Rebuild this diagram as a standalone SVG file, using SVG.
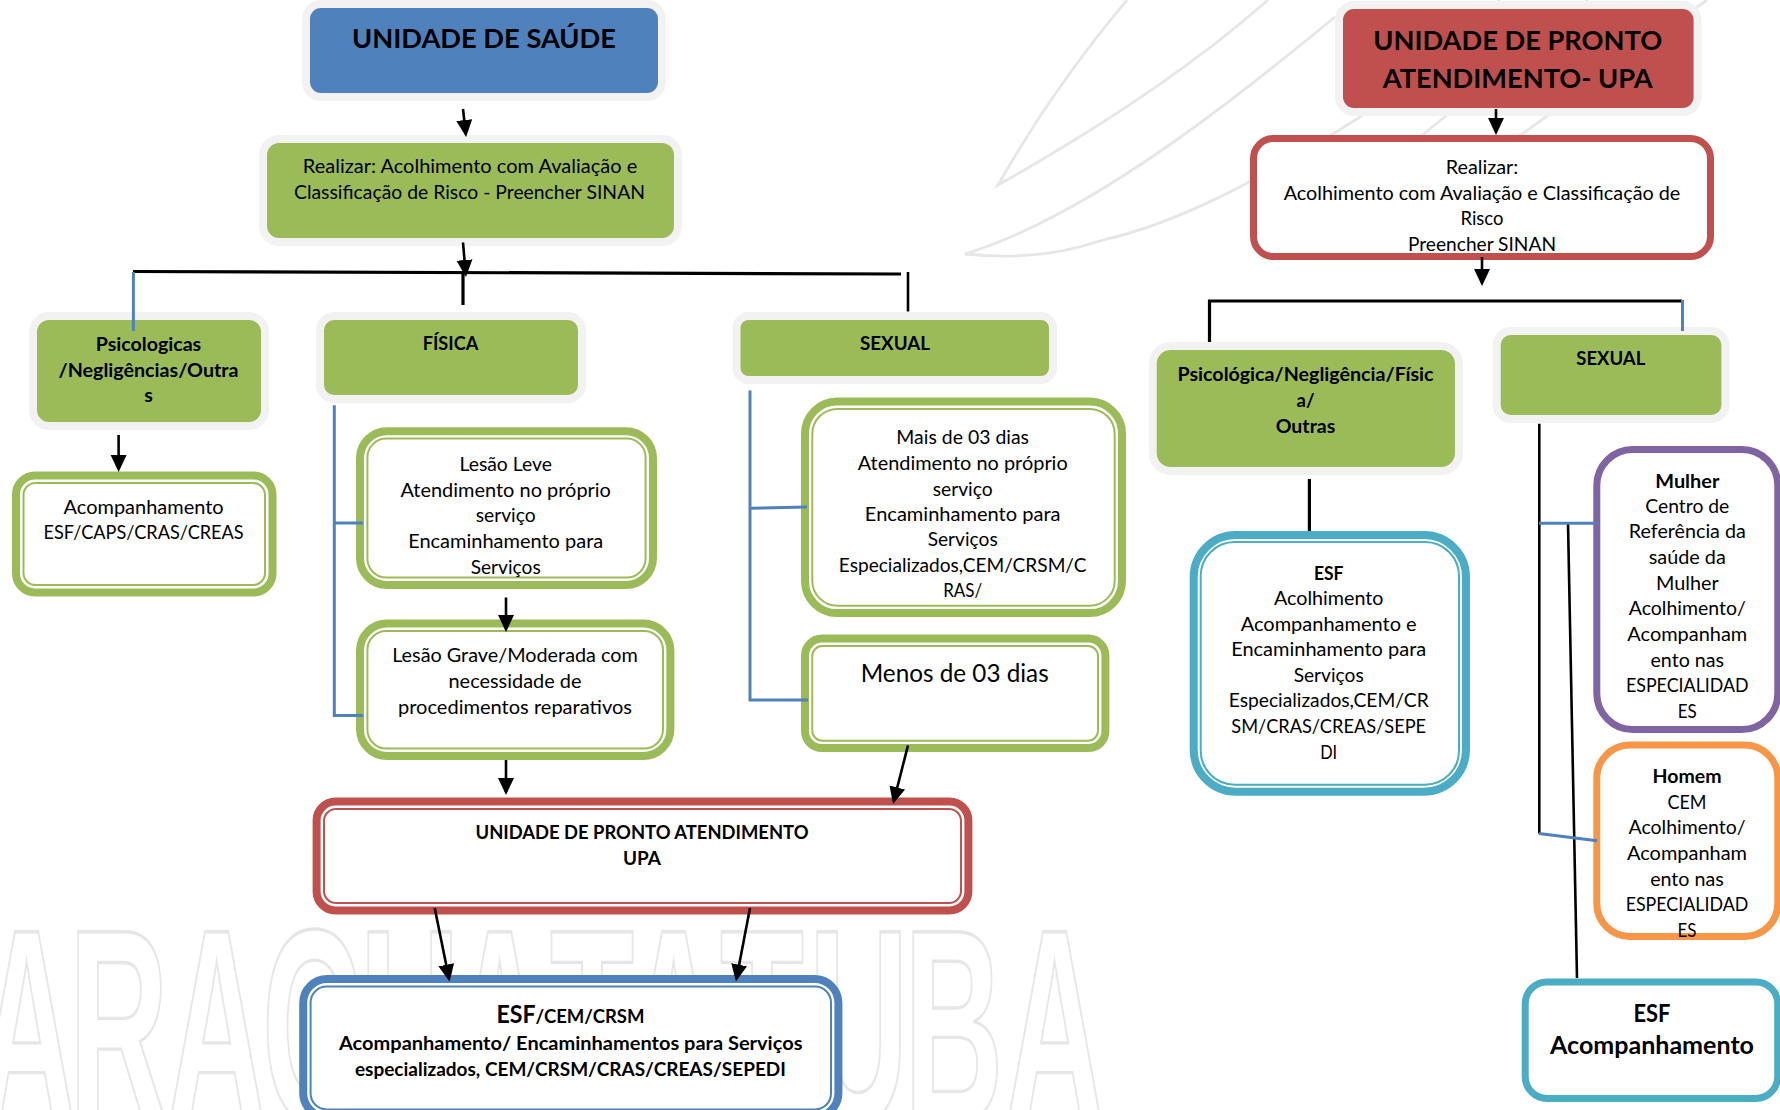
<svg xmlns="http://www.w3.org/2000/svg" width="1780" height="1110" viewBox="0 0 1780 1110">
<style>
text{font-family:Lato,"Liberation Sans",sans-serif;font-size:19.6px;fill:#000;text-anchor:middle}
.b{font-weight:700}
.t{font-size:27px;font-weight:700}
.big{font-size:24.5px}
.wm{font-family:"Liberation Sans",sans-serif;font-weight:700;font-size:275px;fill:none;stroke:#e6e6e6;stroke-width:2.7;text-anchor:start;vector-effect:non-scaling-stroke}
.leaf{fill:none;stroke:#e6e6e6;stroke-width:2.8}
.halo{stroke:#f2f2f2;stroke-width:8}
.g{fill:#9bbb59}.bl{fill:#4f81bd}.rd{fill:#c0504d}
.o,.i,.s{fill:#fff}
.o{stroke-width:8}.i{stroke-width:2}.s{stroke-width:7}
.cg{stroke:#9bbb59}.cr{stroke:#c0504d}.cb{stroke:#4f81bd}.ct{stroke:#4bacc6}.cp{stroke:#8064a2}.co{stroke:#f79646}
.k{stroke:#000;stroke-width:2.6;fill:none}
.kt{stroke:#000;stroke-width:3.2;fill:none}
.u{stroke:#4f81bd;stroke-width:3;fill:none}
.a{stroke:#000;stroke-width:2.6;fill:none;marker-end:url(#ah)}
</style>
<defs>
<marker id="ah" markerUnits="userSpaceOnUse" markerWidth="18" markerHeight="18" viewBox="0 0 18 18" refX="14" refY="9" orient="auto"><path d="M0,1 L17,9 L0,17 z" fill="#000"/></marker>
</defs>
<g id="watermark">
<text class="wm" transform="scale(.5,1)" x="-46 138 334 524 720 900 1100 1248 1440 1618 1808 2010" y="1121">ARACUATATUBA</text>
<path class="leaf" d="M1127,0 Q1055,85 998,185 C1110,122 1200,60 1268,0"/>
<path class="leaf" d="M1335,17 C1240,95 1150,165 1060,213 Q1010,240 965,254 Q1040,262 1103,240 C1170,225 1250,187 1360,117 L1500,0"/>
<path class="leaf" d="M1420,137 L1588,0"/>
<path class="leaf" d="M1518,137 L1707,0"/>
</g>
<g id="n-unidade-saude">
<rect class="bl halo" x="306" y="4" width="356" height="93" rx="15"/>
<text class="t" x="484" y="48" textLength="264" lengthAdjust="spacingAndGlyphs">UNIDADE DE SAÚDE</text>
</g>
<g id="n-realizar-saude">
<rect class="g halo" x="263" y="139" width="415" height="103" rx="16"/>
<text x="470" y="172.500" textLength="334.500" lengthAdjust="spacingAndGlyphs">Realizar: Acolhimento com Avaliação e</text>
<text x="469.500" y="199" textLength="351" lengthAdjust="spacingAndGlyphs">Classificação de Risco - Preencher SINAN</text>
</g>
<g id="n-psicologicas">
<rect class="g halo" x="33" y="316" width="232" height="110" rx="16"/>
<text class="b" x="148.500" y="351" textLength="105.500" lengthAdjust="spacingAndGlyphs">Psicologicas</text>
<text class="b" x="148.500" y="377" textLength="180" lengthAdjust="spacingAndGlyphs">/Negligências/Outra</text>
<text class="b" x="148.500" y="402">s</text>
</g>
<g id="n-fisica">
<rect class="g halo" x="320" y="316" width="262" height="83" rx="14"/>
<text class="b" x="450.500" y="350" textLength="55.500" lengthAdjust="spacingAndGlyphs">FÍSICA</text>
</g>
<g id="n-sexual-saude">
<rect class="g halo" x="736.500" y="316" width="316.500" height="64" rx="12"/>
<text class="b" x="895" y="349.500" textLength="70" lengthAdjust="spacingAndGlyphs">SEXUAL</text>
</g>
<g id="n-acompanhamento">
<rect class="o cg" x="16" y="475.500" width="256.500" height="117" rx="19"/>
<rect class="i cg" x="23.500" y="483" width="241.500" height="102" rx="12"/>
<text x="143.600" y="514" textLength="160" lengthAdjust="spacingAndGlyphs">Acompanhamento</text>
<text x="143.600" y="539" textLength="200" lengthAdjust="spacingAndGlyphs">ESF/CAPS/CRAS/CREAS</text>
</g>
<g id="n-lesao-leve">
<rect class="o cg" x="360" y="431.200" width="293" height="153.800" rx="27"/>
<rect class="i cg" x="367.400" y="438.600" width="278.200" height="139" rx="19"/>
<text x="505.700" y="470.800" textLength="92.500" lengthAdjust="spacingAndGlyphs">Lesão Leve</text>
<text x="505.700" y="497.300" textLength="210.500" lengthAdjust="spacingAndGlyphs">Atendimento no próprio</text>
<text x="505.700" y="522" textLength="60" lengthAdjust="spacingAndGlyphs">serviço</text>
<text x="505.700" y="548" textLength="195" lengthAdjust="spacingAndGlyphs">Encaminhamento para</text>
<text x="505.700" y="573.500" textLength="70" lengthAdjust="spacingAndGlyphs">Serviços</text>
</g>
<g id="n-lesao-grave">
<rect class="o cg" x="360" y="623.600" width="310.400" height="132.400" rx="27"/>
<rect class="i cg" x="367.400" y="631" width="295.600" height="117.600" rx="19"/>
<text x="515" y="662" textLength="245.700" lengthAdjust="spacingAndGlyphs">Lesão Grave/Moderada com</text>
<text x="515" y="688" textLength="133" lengthAdjust="spacingAndGlyphs">necessidade de</text>
<text x="515" y="714" textLength="234" lengthAdjust="spacingAndGlyphs">procedimentos reparativos</text>
</g>
<g id="n-mais-3-dias">
<rect class="o cg" x="805" y="401.600" width="317" height="211.500" rx="32"/>
<rect class="i cg" x="812.300" y="409" width="302.400" height="196.700" rx="25"/>
<text x="962.700" y="444.300" textLength="132.700" lengthAdjust="spacingAndGlyphs">Mais de 03 dias</text>
<text x="962.700" y="470" textLength="210" lengthAdjust="spacingAndGlyphs">Atendimento no próprio</text>
<text x="962.700" y="496" textLength="60" lengthAdjust="spacingAndGlyphs">serviço</text>
<text x="962.700" y="521.300" textLength="195.700" lengthAdjust="spacingAndGlyphs">Encaminhamento para</text>
<text x="962.700" y="546" textLength="70" lengthAdjust="spacingAndGlyphs">Serviços</text>
<text x="962.700" y="572" textLength="247.700" lengthAdjust="spacingAndGlyphs">Especializados,CEM/CRSM/C</text>
<text x="962.700" y="597" textLength="39" lengthAdjust="spacingAndGlyphs">RAS/</text>
</g>
<g id="n-menos-3-dias">
<rect class="o cg" x="805" y="638.600" width="300.400" height="109.500" rx="17"/>
<rect class="i cg" x="812.300" y="646" width="285.700" height="94.700" rx="10"/>
<text class="big" x="954.700" y="681.800" textLength="188" lengthAdjust="spacingAndGlyphs">Menos de 03 dias</text>
</g>
<g id="n-upa-saude">
<rect class="o cr" x="316.600" y="801.600" width="651.800" height="108.800" rx="19"/>
<rect class="i cr" x="324" y="809" width="637" height="94" rx="12"/>
<text class="b" x="642" y="839" textLength="333" lengthAdjust="spacingAndGlyphs">UNIDADE DE PRONTO ATENDIMENTO</text>
<text class="b" x="642" y="865" textLength="38" lengthAdjust="spacingAndGlyphs">UPA</text>
</g>
<g id="n-esf-saude">
<rect class="o cb" x="303.200" y="979" width="535.200" height="138" rx="24"/>
<rect class="i cb" x="310.600" y="986.500" width="520.400" height="123" rx="16"/>
<text class="b" x="570.500" y="1023" textLength="148" lengthAdjust="spacingAndGlyphs"><tspan class="big">ESF</tspan>/CEM/CRSM</text>
<text class="b" x="570.700" y="1050" textLength="463.500" lengthAdjust="spacingAndGlyphs">Acompanhamento/ Encaminhamentos para Serviços</text>
<text class="b" x="570.400" y="1076" textLength="431" lengthAdjust="spacingAndGlyphs">especializados, CEM/CRSM/CRAS/CREAS/SEPEDI</text>
</g>
<g id="n-upa-title">
<rect class="rd halo" x="1339" y="5" width="358.600" height="107" rx="15"/>
<text class="t" x="1517.700" y="49.500" textLength="289" lengthAdjust="spacingAndGlyphs">UNIDADE DE PRONTO</text>
<text class="t" x="1517.700" y="88" textLength="270" lengthAdjust="spacingAndGlyphs">ATENDIMENTO- UPA</text>
</g>
<g id="n-realizar-upa">
<rect class="s cr" x="1253.500" y="138.500" width="457" height="118" rx="20"/>
<text x="1482" y="173.500" textLength="72.600" lengthAdjust="spacingAndGlyphs">Realizar:</text>
<text x="1482" y="200.400" textLength="396.700" lengthAdjust="spacingAndGlyphs">Acolhimento com Avaliação e Classificação de</text>
<text x="1482" y="225" textLength="43" lengthAdjust="spacingAndGlyphs">Risco</text>
<text x="1482" y="251" textLength="148" lengthAdjust="spacingAndGlyphs">Preencher SINAN</text>
</g>
<g id="n-psicologica-upa">
<rect class="g halo" x="1152.700" y="346" width="306.300" height="125" rx="18"/>
<text class="b" x="1305.500" y="381" textLength="256" lengthAdjust="spacingAndGlyphs">Psicológica/Negligência/Físic</text>
<text class="b" x="1305.500" y="407" textLength="18" lengthAdjust="spacingAndGlyphs">a/</text>
<text class="b" x="1305.500" y="433" textLength="59.600" lengthAdjust="spacingAndGlyphs">Outras</text>
</g>
<g id="n-sexual-upa">
<rect class="g halo" x="1496.700" y="331" width="228.700" height="88" rx="14"/>
<text class="b" x="1610.800" y="365" textLength="69" lengthAdjust="spacingAndGlyphs">SEXUAL</text>
</g>
<g id="n-esf-upa">
<rect class="o ct" x="1193.700" y="535" width="272.300" height="256.700" rx="42"/>
<rect class="i ct" x="1200.700" y="542" width="258.300" height="242.700" rx="34"/>
<text class="b" x="1328.700" y="580" textLength="29.500" lengthAdjust="spacingAndGlyphs">ESF</text>
<text x="1328.700" y="605" textLength="109.500" lengthAdjust="spacingAndGlyphs">Acolhimento</text>
<text x="1328.700" y="631" textLength="176" lengthAdjust="spacingAndGlyphs">Acompanhamento e</text>
<text x="1328.700" y="656" textLength="195" lengthAdjust="spacingAndGlyphs">Encaminhamento para</text>
<text x="1328.700" y="682.400" textLength="70" lengthAdjust="spacingAndGlyphs">Serviços</text>
<text x="1328.700" y="707" textLength="200" lengthAdjust="spacingAndGlyphs">Especializados,CEM/CR</text>
<text x="1328.700" y="733" textLength="194.700" lengthAdjust="spacingAndGlyphs">SM/CRAS/CREAS/SEPE</text>
<text x="1328.700" y="759" textLength="17" lengthAdjust="spacingAndGlyphs">DI</text>
</g>
<g id="n-mulher">
<rect class="s cp" x="1596.800" y="449.500" width="181" height="280" rx="36"/>
<text class="b" x="1687.300" y="488" textLength="64" lengthAdjust="spacingAndGlyphs">Mulher</text>
<text x="1687.300" y="512.700" textLength="84" lengthAdjust="spacingAndGlyphs">Centro de</text>
<text x="1687.300" y="538" textLength="117" lengthAdjust="spacingAndGlyphs">Referência da</text>
<text x="1687.300" y="564" textLength="77" lengthAdjust="spacingAndGlyphs">saúde da</text>
<text x="1687.300" y="590" textLength="62.700" lengthAdjust="spacingAndGlyphs">Mulher</text>
<text x="1687.300" y="615" textLength="117" lengthAdjust="spacingAndGlyphs">Acolhimento/</text>
<text x="1687.300" y="641" textLength="120" lengthAdjust="spacingAndGlyphs">Acompanham</text>
<text x="1687.300" y="666.700" textLength="73.700" lengthAdjust="spacingAndGlyphs">ento nas</text>
<text x="1687.300" y="692.300" textLength="122.700" lengthAdjust="spacingAndGlyphs">ESPECIALIDAD</text>
<text x="1687.300" y="717.500" textLength="19" lengthAdjust="spacingAndGlyphs">ES</text>
</g>
<g id="n-homem">
<rect class="s co" x="1596.800" y="745" width="181" height="191.500" rx="33"/>
<text class="b" x="1687" y="783.300" textLength="69" lengthAdjust="spacingAndGlyphs">Homem</text>
<text x="1687" y="809" textLength="39" lengthAdjust="spacingAndGlyphs">CEM</text>
<text x="1687" y="834" textLength="117" lengthAdjust="spacingAndGlyphs">Acolhimento/</text>
<text x="1687" y="860" textLength="120" lengthAdjust="spacingAndGlyphs">Acompanham</text>
<text x="1687" y="886" textLength="73.700" lengthAdjust="spacingAndGlyphs">ento nas</text>
<text x="1687" y="911" textLength="122.700" lengthAdjust="spacingAndGlyphs">ESPECIALIDAD</text>
<text x="1687" y="937" textLength="19" lengthAdjust="spacingAndGlyphs">ES</text>
</g>
<g id="n-esf-acompanhamento">
<rect class="s ct" x="1525.200" y="981.900" width="252.500" height="116.600" rx="22"/>
<text class="b big" x="1652" y="1021.500" textLength="37" lengthAdjust="spacingAndGlyphs">ESF</text>
<text class="b big" x="1652" y="1054" textLength="204" lengthAdjust="spacingAndGlyphs">Acompanhamento</text>
</g>
<g id="connectors">
<path class="a" d="M463,109 L465.800,134"/>
<path class="a" d="M463,242.500 L465.700,274"/>
<path class="kt" d="M133,271.500 L901,274"/>
<path class="k" d="M908,272 V311.500"/>
<path class="kt" d="M463,272 V305"/>
<path class="u" d="M133.400,272 V331"/>
<path class="a" d="M118.600,435 V469"/>
<path class="u" d="M334.300,405.300 V715.400 H363 M334.300,523 H363"/>
<path class="u" d="M750,390.400 V700 H808 M750,508.300 L807,507"/>
<path class="a" d="M506,597.500 V629"/>
<path class="a" d="M506,760 V792"/>
<path class="a" d="M908,745.400 L893.800,801"/>
<path class="a" d="M434.700,908 L449,978.500"/>
<path class="a" d="M750,908 L736.500,978.500"/>
<path class="a" d="M1496,109 V132"/>
<path class="a" d="M1482,257 V283"/>
<path class="kt" d="M1209.500,342 V301 H1682"/>
<path class="u" d="M1682.500,300 V331"/>
<path class="kt" d="M1309.400,479 V531"/>
<path class="k" d="M1539.300,423.700 V833.600"/>
<path class="k" d="M1568,523 L1577,978"/>
<path class="u" d="M1539,523.300 H1597 M1539,833.600 L1597,840.700"/>
</g>
</svg>
